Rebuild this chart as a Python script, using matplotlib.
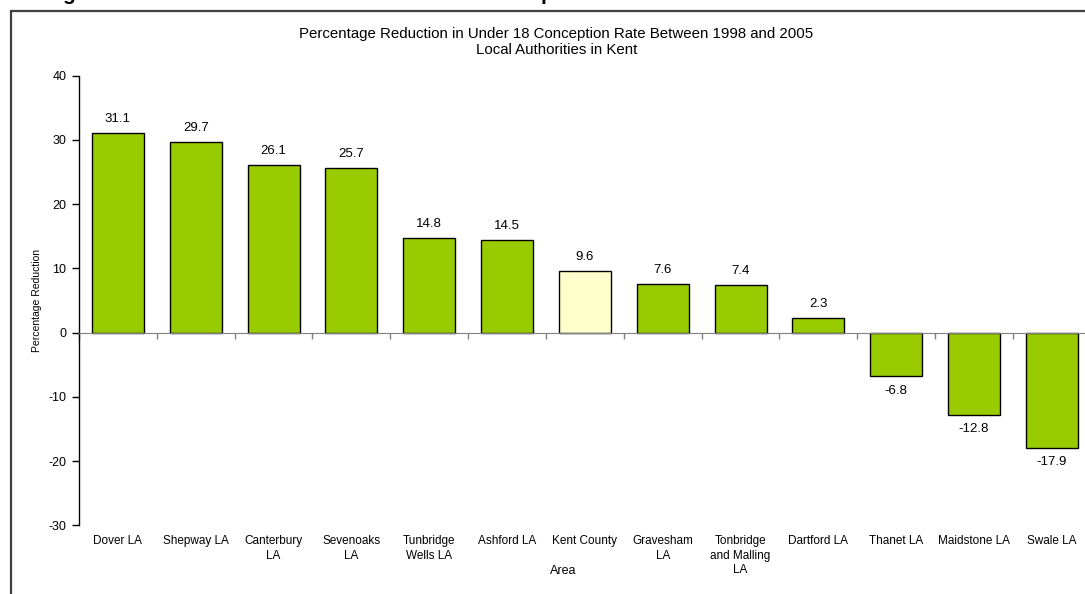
import numpy as np
import matplotlib
matplotlib.use("Agg")
import matplotlib.pyplot as plt
from matplotlib.patches import Rectangle

plt.rcParams['font.family'] = ['Liberation Sans', 'DejaVu Sans']
plt.rcParams['axes.unicode_minus'] = False

# data
areas = ["Dover LA", "Shepway LA", "Canterbury\nLA", "Sevenoaks\nLA",
         "Tunbridge\nWells LA", "Ashford LA", "Kent County", "Gravesham\nLA",
         "Tonbridge\nand Malling\nLA", "Dartford LA", "Thanet LA",
         "Maidstone LA", "Swale LA"]
reduction = [31.1, 29.7, 26.1, 25.7, 14.8, 14.5, 9.6, 7.6, 7.4, 2.3, -6.8, -12.8, -17.9]
highlight = "Kent County"
yticks = [-30, -20, -10, 0, 10, 20, 30, 40]

green = "#99CC00"
pale = "#FFFFCC"

fig = plt.figure(figsize=(10.85, 5.94), dpi=100)
W, H = 1085.0, 594.0

# plot area (runs slightly past the right edge, as in the cropped original)
ax = fig.add_axes([79 / W, 1 - 525.4 / H, (1090.8 - 79) / W, (525.4 - 75.7) / H])

x = np.arange(len(areas))
colors = [pale if a == highlight else green for a in areas]
bars = ax.bar(x, reduction, width=0.668, color=colors, edgecolor="black", linewidth=1.0, zorder=3)

for b, v in zip(bars, reduction):
    if v >= 0:
        ax.annotate("%.1f" % v, (b.get_x() + b.get_width() / 2, v), xytext=(0, 5.5),
                    textcoords="offset points", ha="center", va="bottom", fontsize=9.5)
    else:
        ax.annotate("%.1f" % v, (b.get_x() + b.get_width() / 2, v), xytext=(0, -6),
                    textcoords="offset points", ha="center", va="top", fontsize=9.5)

ax.set_xlim(-0.5, len(areas) - 0.5)
ax.set_ylim(-30, 40)
ax.set_yticks(yticks)
ax.tick_params(axis="y", direction="out", length=5, width=1, labelsize=9, pad=4)

# zero line acts as the category axis
ax.spines["top"].set_visible(False)
ax.spines["right"].set_visible(False)
ax.spines["bottom"].set_position(("data", 0))
ax.spines["bottom"].set_color("#808080")
ax.spines["bottom"].set_zorder(4)
ax.spines["left"].set_linewidth(1)

ax.set_xticks(x)
ax.set_xticklabels(areas, fontsize=8.5, linespacing=1.25)
ax.set_xticks(np.arange(len(areas) + 1) - 0.5, minor=True)
ax.tick_params(axis="x", which="major", length=0, pad=146)
ax.tick_params(axis="x", which="minor", direction="out", length=4, width=1, color="#808080")

ax.set_xlabel("Area", fontsize=9)
ax.xaxis.set_label_coords((563 - 79) / (1090.8 - 79), -0.088)

fig.text(37.5 / W, 1 - 300 / H, "Percentage Reduction", rotation=90,
         ha="center", va="center", fontsize=7.5)

fig.text(556 / W, 1 - 34 / H, "Percentage Reduction in Under 18 Conception Rate Between 1998 and 2005",
         ha="center", va="center", fontsize=10.8)
fig.text(557 / W, 1 - 50 / H, "Local Authorities in Kent", ha="center", va="center", fontsize=10.8)

# chart frame (only top and left edges visible in crop)
fig.add_artist(Rectangle((11 / W, -0.1), 1.2, 1.1 - 11 / H, transform=fig.transFigure,
                         fill=False, edgecolor="#404040", linewidth=1.6, clip_on=False))

# bottom of the cropped heading above the chart
fig.text(62 / W, 1.0, "g", fontsize=15, fontweight="bold", ha="left", va="baseline")
fig.text(541 / W, 1.0, "p", fontsize=15, fontweight="bold", ha="left", va="baseline")

fig.savefig("out.png", dpi=100)
